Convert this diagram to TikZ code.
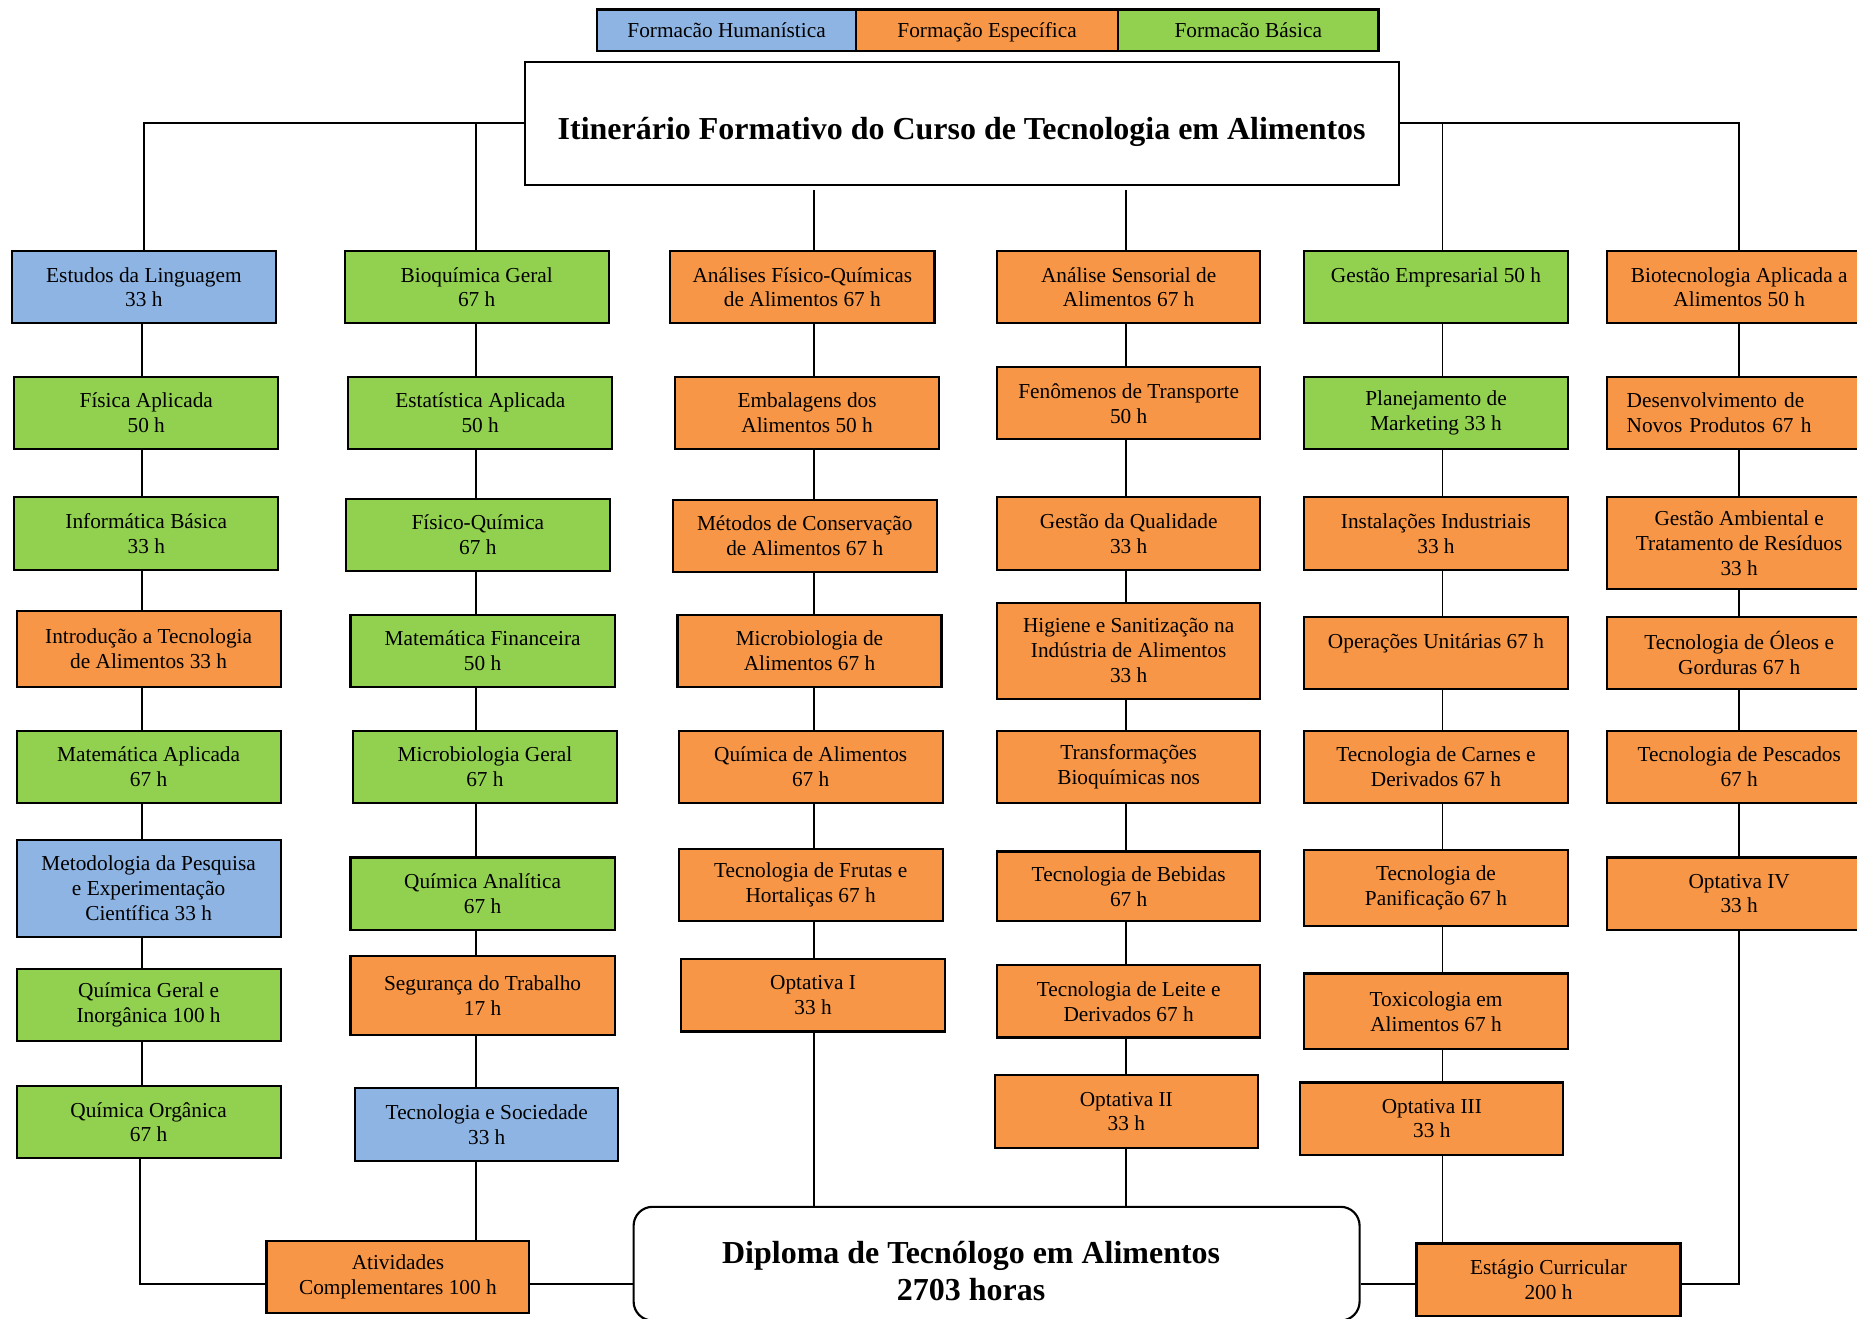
\documentclass[tikz,border=0pt]{standalone}
\usepackage{fontspec}
\setmainfont{Liberation Serif}
\usetikzlibrary{calc}
\definecolor{hum}{HTML}{8EB4E3}
\definecolor{esp}{HTML}{F79646}
\definecolor{bas}{HTML}{92D050}
\tikzset{
  box/.style={draw=black, line width=0.9pt, rectangle, align=center, inner sep=1pt,
    font=\fontsize{9}{10.5}\selectfont},
  hbox/.style={box, fill=hum},
  ebox/.style={box, fill=esp},
  bbox/.style={box, fill=bas},
  legbox/.style={text height=7.5pt, text depth=1.5pt},
  conn/.style={draw=black, line width=0.8pt},
}
\newcommand{\bx}[7]{\node[#2, minimum width={(#5-#3)*0.5pt}, minimum height={(#6-#4)*0.5pt}] (#1) at ({(#3+#5)/2},{(#4+#6)/2}) {#7};}
\begin{document}
\begin{tikzpicture}[x=0.5pt, y=-0.5pt]
\clip (0,0) rectangle (1568,1113);
\fill[white] (0,0) rectangle (1568,1113);
% column coordinates
\coordinate (c1) at (120,0);
\coordinate (c1b) at (118,0);
\coordinate (c2) at (402,0);
\coordinate (c3) at (687,0);
\coordinate (c4) at (951,0);
\coordinate (c5) at (1218,0);
\coordinate (c6) at (1468,0);
\coordinate (hy) at (0,1084);
% legend
\bx{lh}{hbox, legbox}{504}{8}{723}{43}{Formacão Humanística}
\bx{le}{ebox, legbox}{723}{8}{944}{43}{Formação Específica}
\bx{lb}{bbox, legbox}{944}{8}{1164}{43}{Formacão Básica}
% title
\node[draw=black, line width=0.8pt, minimum width={738*0.5pt}, minimum height={104*0.5pt}, inner sep=0pt,
  text height=17pt, text depth=3pt,
  font=\fontsize{13.5}{15.5}\selectfont\bfseries] (title) at (812,104)
  {Itinerário Formativo do Curso de Tecnologia em Alimentos};
% column 1
\bx{est}{hbox}{10}{212}{233}{273}{Estudos da Linguagem\\33 h}
\bx{fis}{bbox}{12}{318}{235}{379}{Física Aplicada\\50 h}
\bx{inf}{bbox}{12}{420}{235}{481}{Informática Básica\\33 h}
\bx{intro}{ebox}{14}{516}{237}{580}{Introdução a Tecnologia\\de Alimentos 33 h}
\bx{mata}{bbox}{14}{617}{237}{678}{Matemática Aplicada\\67 h}
\bx{met}{hbox}{14}{709}{237}{791}{Metodologia da Pesquisa\\e Experimentação\\Científica 33 h}
\bx{qgi}{bbox}{14}{818}{237}{879}{Química Geral e\\Inorgânica 100 h}
\bx{qo}{bbox}{14}{917}{237}{978}{Química Orgânica\\67 h}
% column 2
\bx{bio}{bbox}{291}{212}{514}{273}{Bioquímica Geral\\67 h}
\bx{esta}{bbox}{294}{318}{517}{379}{Estatística Aplicada\\50 h}
\bx{fq}{bbox}{292}{421}{515}{482}{Físico-Química\\67 h}
\bx{matf}{bbox}{296}{519}{519}{580}{Matemática Financeira\\50 h}
\bx{mic}{bbox}{298}{617}{521}{678}{Microbiologia Geral\\67 h}
\bx{qa}{bbox}{296}{724}{519}{785}{Química Analítica\\67 h}
\bx{seg}{ebox}{296}{807}{519}{874}{Segurança do Trabalho\\17 h}
\bx{ts}{hbox}{300}{919}{522}{980}{Tecnologia e Sociedade\\33 h}
\bx{atv}{ebox}{225}{1048}{447}{1109}{Atividades\\Complementares 100 h}
% column 3
\bx{afq}{ebox}{566}{212}{789}{273}{Análises Físico-Químicas\\de Alimentos 67 h}
\bx{emb}{ebox}{570}{318}{793}{379}{Embalagens dos\\Alimentos 50 h}
\bx{mc}{ebox}{568}{422}{791}{483}{Métodos de Conservação\\de Alimentos 67 h}
\bx{mal}{ebox}{572}{519}{795}{580}{Microbiologia de\\Alimentos 67 h}
\bx{qal}{ebox}{573}{617}{796}{678}{Química de Alimentos\\67 h}
\bx{tfh}{ebox}{573}{717}{796}{778}{Tecnologia de Frutas e\\Hortaliças 67 h}
\bx{opa}{ebox}{575}{810}{798}{871}{Optativa I\\33 h}
% column 4
\bx{asen}{ebox}{842}{212}{1064}{273}{Análise Sensorial de\\Alimentos 67 h}
\bx{fen}{ebox}{842}{310}{1064}{371}{Fenômenos de Transporte\\50 h}
\bx{gq}{ebox}{842}{420}{1064}{481}{Gestão da Qualidade\\33 h}
\bx{hig}{ebox}{842}{509}{1064}{590}{Higiene e Sanitização na\\Indústria de Alimentos\\33 h}
\bx{tb}{ebox}{842}{617}{1064}{678}{Transformações\\Bioquímicas nos}
\bx{beb}{ebox}{842}{719}{1064}{778}{Tecnologia de Bebidas\\67 h}
\bx{lei}{ebox}{842}{815}{1064}{876}{Tecnologia de Leite e\\Derivados 67 h}
\bx{opb}{ebox}{840}{908}{1062}{969}{Optativa II\\33 h}
% column 5
\bx{gemp}{bbox}{1101}{212}{1324}{273}{Gestão Empresarial 50 h\\\mbox{}}
\bx{plm}{bbox}{1101}{318}{1324}{379}{Planejamento de\\Marketing 33 h}
\bx{ii}{ebox}{1101}{420}{1324}{481}{Instalações Industriais\\33 h}
\bx{ou}{ebox}{1101}{521}{1324}{582}{Operações Unitárias 67 h\\\mbox{}}
\bx{carn}{ebox}{1101}{617}{1324}{678}{Tecnologia de Carnes e\\Derivados 67 h}
\bx{pan}{ebox}{1101}{718}{1324}{782}{Tecnologia de\\Panificação 67 h}
\bx{tox}{ebox}{1101}{822}{1324}{886}{Toxicologia em\\Alimentos 67 h}
\bx{opc}{ebox}{1098}{914}{1320}{975}{Optativa III\\33 h}
\bx{estg}{ebox}{1196}{1050}{1419}{1111}{Estágio Curricular\\200 h}
% column 6
\bx{bt}{ebox}{1357}{212}{1580}{273}{Biotecnologia Aplicada a\\Alimentos 50 h}
\bx{dnp}{ebox, align=left, text width=95pt}{1357}{318}{1580}{379}{Desenvolvimento de\\Novos Produtos 67 h}
\bx{gamb}{ebox}{1357}{420}{1580}{497}{Gestão Ambiental e\\Tratamento de Resíduos\\33 h}
\bx{oleo}{ebox}{1357}{521}{1580}{582}{Tecnologia de Óleos e\\Gorduras 67 h}
\bx{pesc}{ebox}{1357}{617}{1580}{678}{Tecnologia de Pescados\\67 h}
\bx{opd}{ebox}{1357}{724}{1580}{785}{Optativa IV\\33 h}
% diploma
\node[draw=black, line width=0.9pt, rounded corners=8pt, minimum width={613*0.5pt}, minimum height={96*0.5pt}] (dip) at (841.5,1067) {};
\node[font=\fontsize{13.5}{15.5}\selectfont\bfseries, align=center, inner sep=0pt] (diptxt) at (820,1073) {Diploma de Tecnólogo em Alimentos\\2703 horas};
% connectors from title
\draw[conn] (title.west) -| (est.north);
\draw[conn] (bio.north -| c2) -- (c2 |- title.west);
\draw[conn] (title.east) -| (bt.north -| c6);
\draw[conn] (gemp.north -| c5) -- (c5 |- title.east);
\draw[conn] ($(c3 |- title.south)+(0,4)$) -- (afq.north -| c3);
\draw[conn] ($(c4 |- title.south)+(0,4)$) -- (asen.north -| c4);
% column chains
\foreach \a/\b in {est/fis, fis/inf, inf/intro, intro/mata, mata/met, met/qgi, qgi/qo}
  \draw[conn] (\a.south -| c1) -- (\b.north -| c1);
\foreach \a/\b in {bio/esta, esta/fq, fq/matf, matf/mic, mic/qa, qa/seg, seg/ts, ts/atv}
  \draw[conn] (\a.south -| c2) -- (\b.north -| c2);
\foreach \a/\b in {afq/emb, emb/mc, mc/mal, mal/qal, qal/tfh, tfh/opa, opa/dip}
  \draw[conn] (\a.south -| c3) -- (\b.north -| c3);
\foreach \a/\b in {asen/fen, fen/gq, gq/hig, hig/tb, tb/beb, beb/lei, lei/opb, opb/dip}
  \draw[conn] (\a.south -| c4) -- (\b.north -| c4);
\foreach \a/\b in {gemp/plm, plm/ii, ii/ou, ou/carn, carn/pan, pan/tox, tox/opc, opc/estg}
  \draw[conn] (\a.south -| c5) -- (\b.north -| c5);
\foreach \a/\b in {bt/dnp, dnp/gamb, gamb/oleo, oleo/pesc, pesc/opd}
  \draw[conn] (\a.south -| c6) -- (\b.north -| c6);
% bottom connectors
\draw[conn] (qo.south -| c1b) |- (atv.west |- hy);
\draw[conn] (atv.east |- hy) -- (dip.west |- hy);
\draw[conn] (dip.east |- hy) -- (estg.west |- hy);
\draw[conn] (estg.east |- hy) -| (opd.south -| c6);
\end{tikzpicture}
\end{document}
